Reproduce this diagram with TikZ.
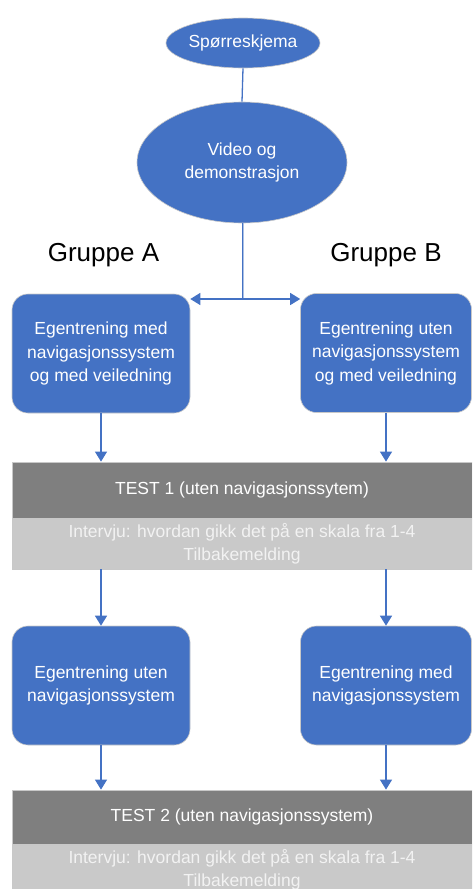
\documentclass[tikz,border=0pt]{standalone}
\usepackage{fontspec}
\setmainfont{Liberation Sans}
\usetikzlibrary{shapes.geometric,arrows.meta}
\definecolor{oblue}{HTML}{4472C4}
\definecolor{dgray}{HTML}{7F7F7F}
\definecolor{lgray}{HTML}{C9C9C9}
\definecolor{ltext}{HTML}{F2F2F2}
\definecolor{edge}{HTML}{C8C8C8}
\begin{document}
\begin{tikzpicture}[x=1pt,y=-1pt,
  txt/.style={font=\fontsize{17.5}{23.5}\selectfont, align=center, text=white},
  oval/.style={ellipse, fill=oblue, draw=edge, line width=0.6pt, inner sep=0pt, txt},
  stepbox/.style={rectangle, rounded corners=16pt, fill=oblue, draw=edge, line width=0.6pt, inner sep=0pt, txt},
  bar/.style={rectangle, draw=edge, line width=0.8pt, minimum width=460pt, inner sep=0pt, txt},
  conn/.style={draw=oblue, line width=1.3pt},
  arr/.style={conn, -{Triangle[length=10pt,width=12pt]}},
  grp/.style={font=\fontsize{26}{30}\selectfont, text=black}]
\useasboundingbox (0,0) rectangle (472,889);
\clip (0,0) rectangle (472,889);

\node[oval, minimum width=149pt, minimum height=50pt] (q) at (243,43) {Spørreskjema};
\node[oval, minimum width=210pt, minimum height=121pt] (v) at (242,162.5) {Video og\\demonstrasjon};

\node[grp] (ga) at (103.5,255) {Gruppe A};
\node[grp] (gb) at (386,255) {Gruppe B};

\node[stepbox, minimum width=178pt, minimum height=119pt] (a1) at (101,353.5) {Egentrening med\\navigasjonssystem\\og med veiledning};
\node[stepbox, minimum width=171pt, minimum height=119pt] (b1) at (386,353) {Egentrening uten\\navigasjonssystem\\og med veiledning};

\node[bar, fill=dgray, minimum height=56pt] (t1) at (242,490) {TEST 1 (uten navigasjonssytem)};
\node[bar, fill=lgray, minimum height=50pt, text=ltext] (i1) at (242,544) {Intervju: hvordan gikk det på en skala fra 1-4\\Tilbakemelding};

\node[stepbox, minimum width=178pt, minimum height=119pt] (a2) at (101,685.5) {Egentrening uten\\navigasjonssystem};
\node[stepbox, minimum width=171pt, minimum height=119pt] (b2) at (386,685.5) {Egentrening med\\navigasjonssystem};

\node[bar, fill=dgray, minimum height=54pt] (t2) at (242,817) {TEST 2 (uten navigasjonssystem)};
\node[bar, fill=lgray, minimum height=50pt, text=ltext] (i2) at (242,870) {Intervju: hvordan gikk det på en skala fra 1-4\\Tilbakemelding};

\coordinate (j) at (243,299);
\draw[conn] (q.south) -- (v.north);
\draw[draw=oblue, line width=0.9pt, double=oblue!45, double distance=1pt] (v.south -| j) -- (j);
\draw[arr] (j) -- (j -| a1.east);
\draw[arr] (j) -- (j -| b1.west);

\draw[arr] (a1.south) -- (a1.south |- t1.north);
\draw[arr] (b1.south) -- (b1.south |- t1.north);
\draw[arr] (i1.south -| a2.north) -- (a2.north);
\draw[arr] (i1.south -| b2.north) -- (b2.north);
\draw[arr] (a2.south) -- (a2.south |- t2.north);
\draw[arr] (b2.south) -- (b2.south |- t2.north);
\end{tikzpicture}
\end{document}
